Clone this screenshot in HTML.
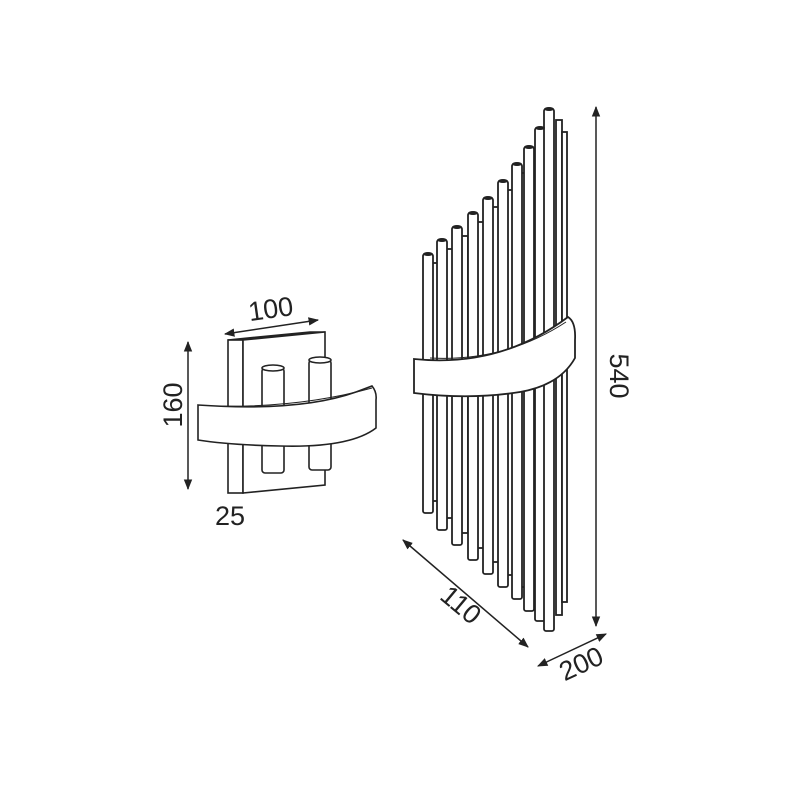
<!DOCTYPE html>
<html><head><style>body{margin:0;background:#fff}svg{display:block}text{font-family:"Liberation Sans",sans-serif;font-size:27px;fill:#222}</style></head>
<body>
<svg width="800" height="800" viewBox="0 0 800 800" xmlns="http://www.w3.org/2000/svg">
<defs>
<marker id="a" viewBox="0 0 10 10" refX="9" refY="5" markerWidth="7" markerHeight="7" orient="auto-start-reverse"><path d="M0,1L10,5L0,9z" fill="#222"/></marker>
</defs>
<g stroke="#222" stroke-width="1.8" fill="#fff">
<rect x="432" y="263" width="7" height="238"/>
<rect x="446" y="249" width="7" height="269"/>
<rect x="461" y="236" width="7" height="297"/>
<rect x="477" y="222" width="7" height="326"/>
<rect x="492" y="207" width="7" height="355"/>
<rect x="507" y="190" width="7" height="385"/>
<rect x="521" y="173" width="7" height="414"/>
<rect x="533" y="156" width="7" height="443"/>
<rect x="546" y="118" width="7" height="491"/>
<rect x="556" y="120" width="6" height="495"/>
<rect x="562" y="132" width="5" height="470"/>
<rect x="423" y="254" width="10" height="259" rx="2"/>
<rect x="437" y="240" width="10" height="290" rx="2"/>
<rect x="452" y="227" width="10" height="318" rx="2"/>
<rect x="468" y="213" width="10" height="347" rx="2"/>
<rect x="483" y="198" width="10" height="376" rx="2"/>
<rect x="498" y="181" width="10" height="406" rx="2"/>
<rect x="512" y="164" width="10" height="435" rx="2"/>
<rect x="524" y="147" width="10" height="464" rx="2"/>
<rect x="535" y="128" width="10" height="493" rx="2"/>
<rect x="544" y="109" width="10" height="522" rx="2"/>
</g>
<g fill="#222">
<ellipse cx="428" cy="254" rx="5" ry="2"/><ellipse cx="442" cy="240" rx="5" ry="2"/><ellipse cx="457" cy="227" rx="5" ry="2"/><ellipse cx="473" cy="213" rx="5" ry="2"/><ellipse cx="488" cy="198" rx="5" ry="2"/><ellipse cx="503" cy="181" rx="5" ry="2"/><ellipse cx="517" cy="164" rx="5" ry="2"/><ellipse cx="529" cy="147" rx="5" ry="2"/><ellipse cx="540" cy="128" rx="5" ry="2"/><ellipse cx="549" cy="109" rx="5" ry="2"/>
</g>
<path d="M414,359 Q500,368 568,317 Q576,322 575,340 L575,358 Q560,385 520,392 Q470,400 414,393 Z" fill="#fff" stroke="#222" stroke-width="1.8"/>
<path d="M430,358 Q505,362 566,322" fill="none" stroke="#222" stroke-width="1"/>

<g stroke="#222" stroke-width="1.6" fill="#fff">
<polygon points="228,340 310,332 325,332 243,340"/>
<rect x="228" y="340" width="15" height="153"/>
<polygon points="243,340 325,332 325,485 243,493"/>
<rect x="262" y="368" width="22" height="105" rx="3"/>
<ellipse cx="273" cy="368" rx="11" ry="3"/>
<rect x="309" y="360" width="22" height="110" rx="3"/>
<ellipse cx="320" cy="360" rx="11" ry="3"/>
<path d="M198,405 Q300,412 356,392 L372,386 Q377,392 376,400 L376,428 Q350,448 280,446 Q230,445 198,440 Z"/>
<path d="M215,406 Q300,408 372,388" fill="none" stroke-width="1"/>
</g>

<g stroke="#222" stroke-width="1.5" fill="none">
<line x1="188" y1="342" x2="188" y2="489" marker-start="url(#a)" marker-end="url(#a)"/>
<line x1="225" y1="334" x2="318" y2="320" marker-start="url(#a)" marker-end="url(#a)"/>
<line x1="596" y1="107" x2="596" y2="626" marker-start="url(#a)" marker-end="url(#a)"/>
<line x1="403" y1="540" x2="528" y2="647" marker-start="url(#a)" marker-end="url(#a)"/>
<line x1="538" y1="666" x2="606" y2="634" marker-start="url(#a)" marker-end="url(#a)"/>
</g>
<text x="272" y="318" text-anchor="middle" transform="rotate(-8 272 318)">100</text>
<text x="182" y="405" text-anchor="middle" transform="rotate(-90 182 405)">160</text>
<text x="230" y="525" text-anchor="middle">25</text>
<text x="610" y="376" text-anchor="middle" transform="rotate(90 610 376)">540</text>
<text x="455" y="612" text-anchor="middle" transform="rotate(40 455 612)">110</text>
<text x="585" y="672" text-anchor="middle" transform="rotate(-25 585 672)">200</text>
</svg>
</body></html>
